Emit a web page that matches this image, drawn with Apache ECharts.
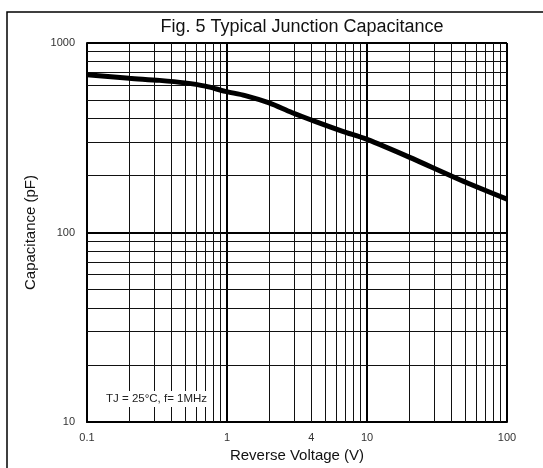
<!DOCTYPE html>
<html>
<head>
<meta charset="utf-8">
<script src="https://cdn.jsdelivr.net/npm/echarts@6/dist/echarts.min.js"></script>
<style>
html,body{margin:0;padding:0;background:#fff;}
#main{width:543px;height:468px;}
</style>
</head>
<body>
<div id="main"></div>
<script>
// Data
var voltage = [0.1, 0.2, 0.33, 0.5, 0.7, 0.97, 1.35, 2, 2.9, 4.25, 6.7, 10, 20, 46, 100];
var capacitance = [680, 652, 635, 616, 592, 556, 528, 483, 430, 386, 342, 310, 250, 190, 150];
// Tick labels
var xTickLabels = [0.1, 1, 4, 10, 100];
var yTickLabels = [10, 100, 1000];
// Minor grid lines
var xMinorGrid = [0.2,0.3,0.4,0.5,0.6,0.7,0.8,0.9, 2,3,4,5,6,7,8,9, 20,30,40,50,60,70,80,90];
var yMinorGrid = [20,30,40,50,60,70,80,90, 200,300,400,500,600,700,800,900];

var font = '"Liberation Sans", Arial, sans-serif';
var chart = echarts.init(document.getElementById('main'));

var minorLines = [];
xMinorGrid.forEach(function (v) { minorLines.push({ xAxis: v }); });
yMinorGrid.forEach(function (v) { minorLines.push({ yAxis: v }); });

chart.setOption({
  animation: false,
  backgroundColor: '#fff',
  title: {
    text: 'Fig. 5 Typical Junction Capacitance',
    left: 297, top: 13, textAlign: 'center',
    textStyle: { fontFamily: font, fontSize: 18, fontWeight: 'normal', color: '#111' }
  },
  grid: { left: 87, top: 43, right: 36, bottom: 43 },
  xAxis: {
    type: 'log', logBase: 10, min: 0.1, max: 100,
    name: 'Reverse Voltage (V)', nameLocation: 'middle', nameGap: 26,
    nameTextStyle: { fontFamily: font, fontSize: 15, color: '#111' },
    axisLine: { show: true, lineStyle: { color: '#000', width: 2 } },
    axisTick: { show: false },
    axisLabel: {
      customValues: xTickLabels,
      fontFamily: font, fontSize: 11, color: '#333', margin: 10,
      formatter: function (v) { return String(+v.toPrecision(3)); }
    },
    splitLine: { show: true, lineStyle: { color: '#000', width: 2 } }
  },
  yAxis: {
    type: 'log', logBase: 10, min: 10, max: 1000,
    name: 'Capacitance (pF)', nameLocation: 'middle', nameGap: 49,
    nameTextStyle: { fontFamily: font, fontSize: 15, color: '#111' },
    axisLine: { show: true, lineStyle: { color: '#000', width: 2 } },
    axisTick: { show: false },
    axisLabel: {
      customValues: yTickLabels,
      fontFamily: font, fontSize: 11, color: '#333', margin: 12,
      formatter: function (v) { return String(Math.round(v)); }
    },
    splitLine: { show: true, lineStyle: { color: '#000', width: 2 } }
  },
  graphic: [
    { type: 'polyline', silent: true, z: 100,
      shape: { points: [[7, 468], [7, 12], [543, 12]] },
      style: { stroke: '#000', lineWidth: 1.5, fill: null } },
    { type: 'text', z: 100, x: 104, y: 391,
      style: { text: 'TJ = 25\u00b0C, f= 1MHz', font: '11.5px ' + font, fill: '#222',
        backgroundColor: '#fff', padding: [2, 2, 2, 2] } }
  ],
  series: [
    {
      type: 'line', data: [], silent: true, z: 1,
      markLine: {
        silent: true, symbol: 'none', animation: false,
        label: { show: false },
        lineStyle: { color: '#111', width: 1, type: 'solid' },
        data: minorLines
      }
    },
    {
      type: 'line', z: 5,
      data: voltage.map(function (v, i) { return [v, capacitance[i]]; }),
      smooth: 0.3, symbol: 'none',
      lineStyle: { color: '#000', width: 5 }
    }
  ]
});
</script>
</body>
</html>
